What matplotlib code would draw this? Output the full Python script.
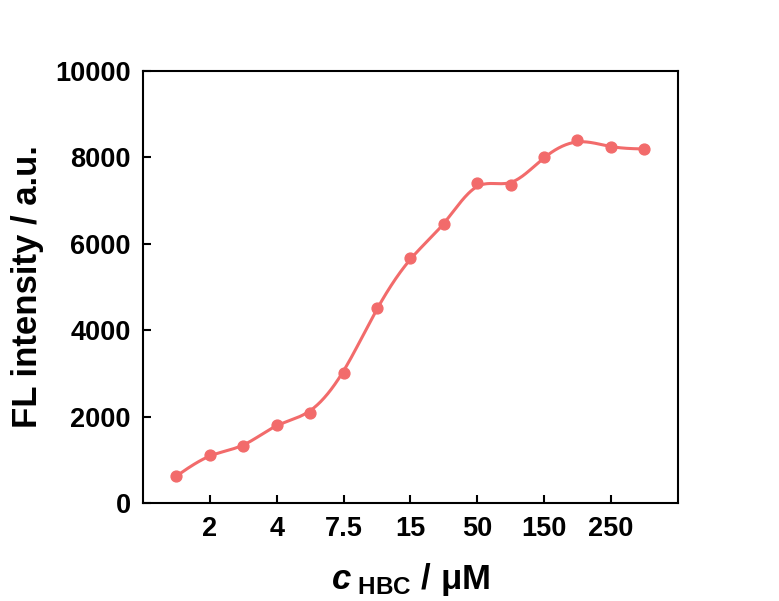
# Curva de intensidad FL vs concentracion de HBC
import numpy as np
import matplotlib
matplotlib.use("Agg")
import matplotlib.pyplot as plt

plt.rcParams['font.family'] = ['Liberation Sans', 'DejaVu Sans']
plt.rcParams['font.weight'] = 'bold'
plt.rcParams['mathtext.fontset'] = 'custom'
plt.rcParams['mathtext.bf'] = 'Liberation Sans:bold'
plt.rcParams['mathtext.bfit'] = 'Liberation Sans:italic:bold'
plt.rcParams['mathtext.it'] = 'Liberation Sans:italic:bold'
plt.rcParams['mathtext.rm'] = 'Liberation Sans:bold'

# Datos
intensidad = [625, 1110, 1320, 1805, 2083, 3009, 4514, 5671, 6458,
              7407, 7361, 8009, 8403, 8241, 8194]
etiquetas = ['2', '4', '7.5', '15', '50', '150', '250']
pos = np.arange(len(intensidad))
pos_ticks = pos[1::2][:len(etiquetas)]

# Spline cubica natural para la linea suave
def spline_natural(x, y, xn):
    x = np.asarray(x, float)
    y = np.asarray(y, float)
    n = len(x)
    h = np.diff(x)
    A = np.zeros((n, n))
    b = np.zeros(n)
    A[0, 0] = 1
    A[-1, -1] = 1
    for i in range(1, n - 1):
        A[i, i - 1] = h[i - 1]
        A[i, i] = 2 * (h[i - 1] + h[i])
        A[i, i + 1] = h[i]
        b[i] = 6 * ((y[i + 1] - y[i]) / h[i] - (y[i] - y[i - 1]) / h[i - 1])
    M = np.linalg.solve(A, b)
    idx = np.clip(np.searchsorted(x, xn) - 1, 0, n - 2)
    x0, x1 = x[idx], x[idx + 1]
    hh = x1 - x0
    t0 = x1 - xn
    t1 = xn - x0
    return (M[idx] * t0**3 / (6 * hh) + M[idx + 1] * t1**3 / (6 * hh)
            + (y[idx] / hh - M[idx] * hh / 6) * t0
            + (y[idx + 1] / hh - M[idx + 1] * hh / 6) * t1)

# un poco de suavizado (la linea no pasa exacta por los puntos)
y = np.array(intensidad, float)
y_s = y.copy()
y_s[1:-1] = (y[:-2] + 10 * y[1:-1] + y[2:]) / 12

xs = np.linspace(pos[0], pos[-1], 400)
ys = spline_natural(pos, y_s, xs)

color = '#F26B6B'
fig = plt.figure(figsize=(7.79, 6.01), dpi=100)
ax = fig.add_axes([0.1836, 0.163, 0.6864, 0.719])
ax.plot(xs, ys, color=color, lw=2.2)
ax.plot(pos, intensidad, 'o', color=color, ms=7.8)

ax.set_xlim(-1, 15)
ax.set_ylim(0, 10000)
ax.set_xticks(pos_ticks)
ax.set_xticklabels(etiquetas)
ax.set_yticks(np.arange(0, 10001, 2000))
ax.tick_params(direction='in', length=6, width=1.5, labelsize=19.5, pad=9)
for lab in ax.get_xticklabels() + ax.get_yticklabels():
    lab.set_fontweight('bold')
for s in ax.spines.values():
    s.set_linewidth(1.5)

ax.set_ylabel('FL intensity / a.u.', fontsize=25, fontweight='bold')
ax.set_xlabel(r'$\mathit{c}_{\ \mathbf{HBC}}$ / μM', fontsize=25, fontweight='bold')
ax.yaxis.set_label_coords(-0.185, 0.5)
ax.xaxis.set_label_coords(0.5, -0.135)

plt.savefig('out.png', dpi=100)
